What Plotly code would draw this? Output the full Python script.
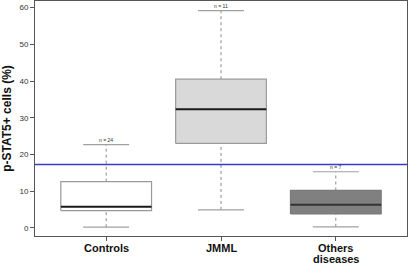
import plotly.graph_objects as go

categories = ["Controls", "JMML", "Others<br>diseases"]
n_labels = ["n = 24", "n = 11", "n = 7"]
lower_whisker = [0.2, 4.9, 0.3]
q1 = [4.7, 23.0, 3.8]
median = [5.8, 32.3, 6.3]
q3 = [12.6, 40.5, 10.2]
upper_whisker = [22.7, 59.2, 15.3]
threshold = 17.3
fills = ["#ffffff", "#d9d9d9", "#808080"]
borders = ["#9a9a9a", "#9a9a9a", "#7a7a7a"]

BOX_W = 0.79
CAP_W = 0.40

fig = go.Figure()
for i in range(len(categories)):
    x = i + 1
    hw = BOX_W / 2
    cw = CAP_W / 2
    fig.add_trace(go.Scatter(x=[x, x, None, x, x], y=[q3[i], upper_whisker[i], None, lower_whisker[i], q1[i]],
                             mode="lines", line=dict(color="#8a8a8a", width=1, dash="dot"),
                             hoverinfo="skip", showlegend=False))
    fig.add_trace(go.Scatter(x=[x - cw, x + cw, None, x - cw, x + cw],
                             y=[upper_whisker[i], upper_whisker[i], None, lower_whisker[i], lower_whisker[i]],
                             mode="lines", line=dict(color="#a0a0a0", width=1.2),
                             hoverinfo="skip", showlegend=False))
    fig.add_trace(go.Scatter(x=[x - hw, x + hw, x + hw, x - hw, x - hw],
                             y=[q1[i], q1[i], q3[i], q3[i], q1[i]],
                             mode="lines", fill="toself", fillcolor=fills[i],
                             line=dict(color=borders[i], width=1.2),
                             hoverinfo="skip", showlegend=False))
    fig.add_trace(go.Scatter(x=[x - hw, x + hw], y=[median[i], median[i]],
                             mode="lines", line=dict(color="#1a1a1a" if i < 2 else "#333333", width=2),
                             hoverinfo="skip", showlegend=False))
    fig.add_annotation(x=x, y=upper_whisker[i], text=n_labels[i], showarrow=False,
                       yshift=5, font=dict(size=5, color="#333333", family="Liberation Sans"))
    for j, line in enumerate(categories[i].split("<br>")):
        fig.add_annotation(x=x, xref="x", y=0, yref="paper", text="<b>" + line + "</b>",
                           showarrow=False, yanchor="middle", yshift=-12 - 10.5 * j,
                           font=dict(size=11, color="#111111"))

fig.add_shape(type="line", xref="paper", x0=0, x1=1, y0=threshold, y1=threshold,
              line=dict(color="#3a3ad0", width=1.5))

fig.update_layout(
    width=409, height=264,
    margin=dict(l=35, r=2, t=1, b=28),
    paper_bgcolor="white", plot_bgcolor="white",
    font=dict(family="Liberation Sans, Arial, sans-serif", color="#222222"),
    xaxis=dict(range=[0.38, 3.62], tickvals=[1, 2, 3], ticktext=["", "", ""], automargin=False,
               showgrid=False, zeroline=False, showline=True, mirror=True,
               linecolor="#555555", linewidth=1, ticks="outside", ticklen=4, tickcolor="#555555"),
    yaxis=dict(range=[-2.2, 61.8], tickvals=[0, 10, 20, 30, 40, 50, 60], automargin=False,
               showgrid=False, zeroline=False, showline=True, mirror=True,
               linecolor="#555555", linewidth=1, ticks="outside", ticklen=4, tickcolor="#555555",
               tickfont=dict(size=8, color="#333333"),
               title=dict(text="<b>p-STAT5+ cells (%)</b>", font=dict(size=12, color="#111111"), standoff=6)),
)

fig.write_html("out.html", config={"displayModeBar": False},
               post_script="document.body.style.margin='0';document.body.style.overflow='hidden';")
